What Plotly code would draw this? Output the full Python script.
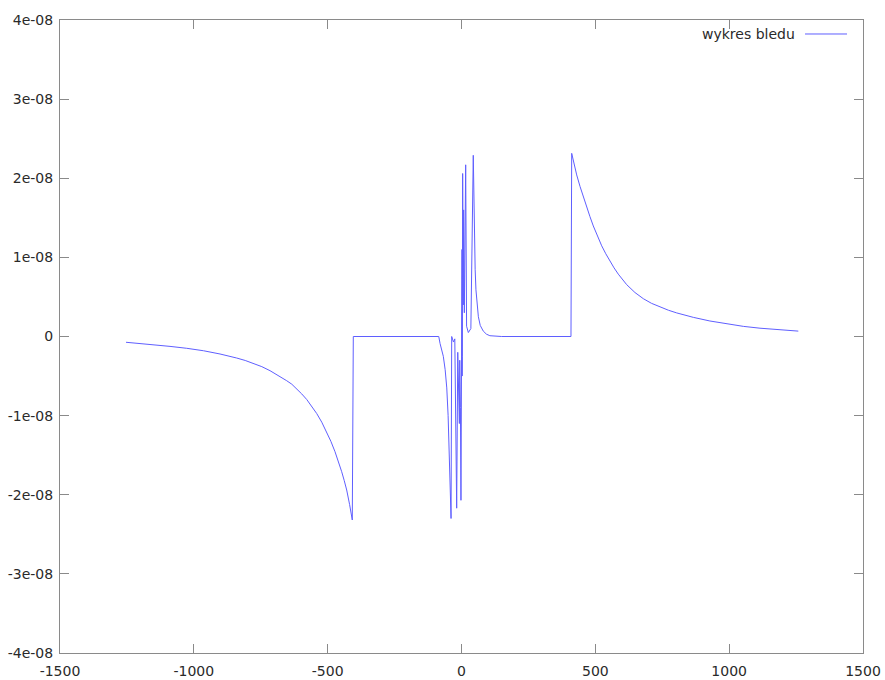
import plotly.graph_objects as go

# ---- data ----
left_x = [-1253.4, -1200.0, -1151.4, -1089.0, -1026.7, -964.0, -902.2, -870.0, -839.8, -808.0,
          -777.8, -746.0, -715.4, -684.0, -653.0, -634.0, -615.7, -597.0, -578.3, -560.0,
          -541.0, -522.0, -503.6, -488.0, -472.6, -460.0, -447.6, -438.0, -428.9, -418.0, -408.0]
left_y = [-0.073e-8, -0.088e-8, -0.104e-8, -0.125e-8, -0.149e-8, -0.18e-8, -0.221e-8, -0.245e-8, -0.272e-8, -0.303e-8,
          -0.338e-8, -0.381e-8, -0.432e-8, -0.492e-8, -0.559e-8, -0.603e-8, -0.662e-8, -0.725e-8, -0.796e-8, -0.878e-8,
          -0.973e-8, -1.083e-8, -1.203e-8, -1.325e-8, -1.456e-8, -1.578e-8, -1.709e-8, -1.822e-8, -1.940e-8, -2.125e-8, -2.319e-8]

center_x = [-404.2, -85.0, -80.0, -74.0, -68.0, -61.0, -55.0, -50.0, -45.5, -42.0, -39.0, -36.6, -30.0, -25.0,
            -18.0, -14.0, -8.0, -6.5, -5.6, -4.0, -2.0, -1.0, -0.7, 0.6, 1.0, 1.9,
            2.5, 3.0, 4.3, 5.5, 6.8, 8.0, 9.3, 10.6, 15.6, 19.0, 25.5, 35.0, 44.0,
            46.0, 48.0, 51.0, 54.0, 58.0, 63.0, 70.0, 81.0, 93.0, 106.0, 150.0, 409.0]
center_y = [0.0, 0.0, -0.09e-8, -0.16e-8, -0.25e-8, -0.42e-8, -0.65e-8, -1.0e-8, -1.52e-8, -1.9e-8, -2.30e-8, 0.0, -0.07e-8, -0.03e-8,
            -2.17e-8, -0.2e-8, -1.1e-8, -0.3e-8, -0.5e-8, -0.9e-8, -2.07e-8, -0.4e-8, 0.3e-8, -1.1e-8, 0.6e-8, 1.1e-8,
            -0.5e-8, -0.25e-8, 2.06e-8, 1.0e-8, 0.4e-8, 1.6e-8, 0.75e-8, 0.3e-8, 2.17e-8, 0.13e-8, 0.05e-8, 0.1e-8, 2.29e-8,
            1.65e-8, 1.22e-8, 0.85e-8, 0.59e-8, 0.40e-8, 0.25e-8, 0.14e-8, 0.07e-8, 0.03e-8, 0.01e-8, 0.0, 0.0]

right_x = [411.7, 420.0, 430.4, 442.7, 455.0, 467.7, 480.0, 492.4, 508.0, 523.8, 539.0, 554.8,
           570.0, 585.8, 601.0, 617.2, 648.0, 679.2, 710.0, 741.6, 773.0, 804.0, 835.0, 866.0,
           928.0, 990.8, 1053.0, 1115.1, 1186.0, 1258.3]
right_y = [2.315e-8, 2.182e-8, 2.042e-8, 1.897e-8, 1.764e-8, 1.634e-8, 1.514e-8, 1.397e-8, 1.264e-8, 1.146e-8, 1.046e-8, 0.951e-8,
           0.867e-8, 0.788e-8, 0.720e-8, 0.655e-8, 0.556e-8, 0.478e-8, 0.419e-8, 0.372e-8, 0.332e-8, 0.298e-8, 0.268e-8, 0.242e-8,
           0.196e-8, 0.158e-8, 0.128e-8, 0.105e-8, 0.083e-8, 0.068e-8]

series_name = "wykres bledu"

x_ticks = [-1500, -1000, -500, 0, 500, 1000, 1500]
x_labels = ["-1500", "-1000", "-500", "0", "500", "1000", "1500"]
y_ticks = [-4e-8, -3e-8, -2e-8, -1e-8, 0, 1e-8, 2e-8, 3e-8, 4e-8]
y_labels = ["-4e-08", "-3e-08", "-2e-08", "-1e-08", "0", "1e-08", "2e-08", "3e-08", "4e-08"]

xs = left_x + center_x + right_x
ys = left_y + center_y + right_y

line_color = "rgb(95,95,255)"
axis_color = "#8a8a8a"
font = dict(family="DejaVu Sans", size=14, color="#2a2a2a")

fig = go.Figure()
fig.add_trace(go.Scatter(x=xs, y=ys, mode="lines", name=series_name,
                         line=dict(color=line_color, width=1), showlegend=False,
                         hoverinfo="skip"))

axis_common = dict(showgrid=False, zeroline=False, showline=True, linecolor=axis_color,
                   linewidth=1, mirror="ticks", ticks="inside", ticklen=9,
                   tickcolor=axis_color, tickwidth=1, tickfont=font, automargin=False)

fig.update_xaxes(range=[-1500, 1500], tickvals=x_ticks, ticktext=x_labels,
                 ticklabelstandoff=5, **axis_common)
fig.update_yaxes(range=[-4e-8, 4e-8], tickvals=y_ticks, ticktext=y_labels,
                 ticklabelstandoff=3, **axis_common)

# gnuplot-style key: text then line sample
fig.add_annotation(x=0.9178, y=0.9779, xref="paper", yref="paper", text=series_name,
                   showarrow=False, xanchor="right", yanchor="middle", font=font)
fig.add_shape(type="line", xref="paper", yref="paper", x0=0.9278, x1=0.9801,
              y0=0.9779, y1=0.9779, line=dict(color=line_color, width=1))

fig.update_layout(width=885, height=680, plot_bgcolor="white", paper_bgcolor="white",
                  margin=dict(l=60, r=22, t=20, b=27, autoexpand=False), font=font, showlegend=False)

fig.write_html("out.html", config={"displayModeBar": False},
               post_script="document.body.style.margin='0';document.body.style.overflow='hidden';")
